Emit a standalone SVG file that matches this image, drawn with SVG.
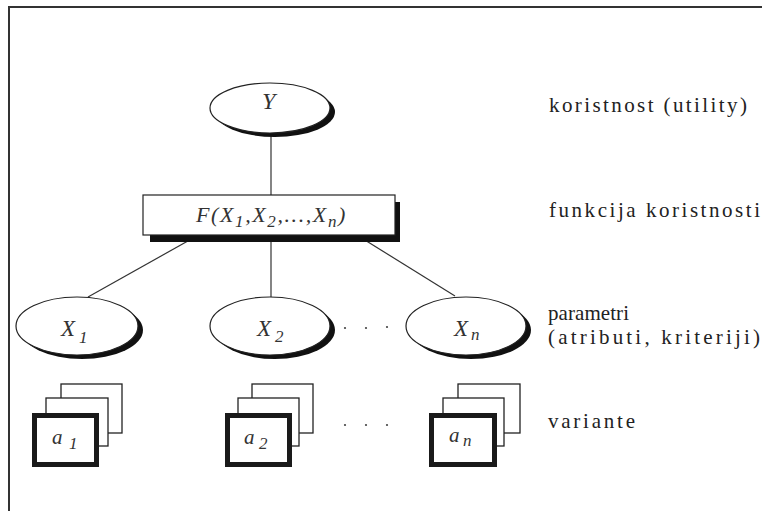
<svg xmlns="http://www.w3.org/2000/svg" width="762" height="511" viewBox="0 0 762 511">
  <style>
    .frame { fill: none; stroke: #333; stroke-width: 2; }
    .edge { stroke: #333; stroke-width: 1.2; fill: none; }
    .shadow { fill: #111; }
    .shape { fill: #fff; stroke: #222; stroke-width: 1.2; }
    .card { fill: #fff; stroke: #222; stroke-width: 1.3; }
    .front { fill: #fff; stroke: #1a1a1a; stroke-width: 5; }
    .math { font-family: "Liberation Serif", "DejaVu Serif", serif; font-style: italic; fill: #333; }
    .label { font-family: "Liberation Serif", "DejaVu Serif", serif; font-size: 21px; fill: #222; }
    .dot { fill: #444; }
  </style>

  <rect width="762" height="511" fill="#fff"/>
  <path class="frame" d="M9,511 V7 H762"/>

  <!-- connectors -->
  <g id="connectors">
    <line class="edge" x1="271" y1="133" x2="271" y2="195"/>
    <line class="edge" x1="195" y1="237" x2="88" y2="297"/>
    <line class="edge" x1="271" y1="237" x2="271" y2="297"/>
    <line class="edge" x1="360" y1="237" x2="455" y2="296"/>
  </g>

  <!-- utility -->
  <g id="node-y">
    <ellipse class="shadow" cx="275" cy="112" rx="60" ry="25"/>
    <ellipse class="shape" cx="270" cy="108" rx="60" ry="25"/>
    <text class="math" x="262" y="109" font-size="24">Y</text>
  </g>

  <!-- utility function -->
  <g id="node-f">
    <rect class="shadow" x="150" y="202" width="250" height="40"/>
    <rect class="shape" x="143" y="195" width="252" height="40"/>
    <text class="math" x="196" y="222" font-size="22" letter-spacing="1.6">F(X<tspan font-size="17" dy="5">1</tspan><tspan dy="-5">,X</tspan><tspan font-size="17" dy="5">2</tspan><tspan dy="-5">,...,X</tspan><tspan font-size="17" dy="5">n</tspan><tspan dy="-5">)</tspan></text>
  </g>

  <!-- parameters -->
  <g id="node-x1">
    <ellipse class="shadow" cx="82" cy="330" rx="61" ry="29"/>
    <ellipse class="shape" cx="77" cy="326" rx="61" ry="29"/>
    <text class="math" x="61" y="336" font-size="23">X</text>
    <text class="math" x="79" y="343" font-size="17">1</text>
  </g>
  <g id="node-x2">
    <ellipse class="shadow" cx="275" cy="330" rx="60" ry="29"/>
    <ellipse class="shape" cx="270" cy="326" rx="60" ry="29"/>
    <text class="math" x="257" y="336" font-size="23">X</text>
    <text class="math" x="275" y="342" font-size="17">2</text>
  </g>
  <g id="node-xn">
    <ellipse class="shadow" cx="471" cy="330" rx="60" ry="29"/>
    <ellipse class="shape" cx="466" cy="326" rx="60" ry="29"/>
    <text class="math" x="454" y="336" font-size="23">X</text>
    <text class="math" x="471" y="340" font-size="17">n</text>
  </g>
  <g id="dots-x">
    <circle class="dot" cx="345" cy="328" r="1.1"/>
    <circle class="dot" cx="366" cy="328" r="1.1"/>
    <circle class="dot" cx="387" cy="327" r="1.1"/>
  </g>

  <!-- variants -->
  <g id="node-a1">
    <rect class="card" x="61" y="384" width="61" height="49"/>
    <rect class="card" x="46" y="398" width="62" height="48"/>
    <rect class="front" x="34.5" y="415.5" width="62" height="49"/>
    <text class="math" x="52" y="444" font-size="21">a</text>
    <text class="math" x="69" y="449" font-size="17">1</text>
  </g>
  <g id="node-a2">
    <rect class="card" x="252" y="384" width="61" height="49"/>
    <rect class="card" x="238" y="398" width="61" height="48"/>
    <rect class="front" x="227.5" y="415.5" width="62" height="49"/>
    <text class="math" x="244" y="444" font-size="21">a</text>
    <text class="math" x="259" y="449" font-size="17">2</text>
  </g>
  <g id="node-an">
    <rect class="card" x="458" y="384" width="62" height="49"/>
    <rect class="card" x="443" y="398" width="61" height="48"/>
    <rect class="front" x="431.5" y="415.5" width="63" height="49"/>
    <text class="math" x="449" y="442" font-size="21">a</text>
    <text class="math" x="463" y="446" font-size="17">n</text>
  </g>
  <g id="dots-a">
    <circle class="dot" cx="345" cy="425" r="1.1"/>
    <circle class="dot" cx="366" cy="425" r="1.1"/>
    <circle class="dot" cx="387" cy="425" r="1.1"/>
  </g>

  <!-- level labels -->
  <g id="labels">
    <text class="label" x="549" y="112" textLength="198" lengthAdjust="spacing">koristnost (utility)</text>
    <text class="label" x="549" y="217" textLength="211" lengthAdjust="spacing">funkcija koristnosti</text>
    <text class="label" x="548" y="320" textLength="81" lengthAdjust="spacing" font-size="20">parametri</text>
    <text class="label" x="548" y="344" textLength="212" lengthAdjust="spacing" font-size="20">(atributi, kriteriji)</text>
    <text class="label" x="548" y="428" textLength="87" lengthAdjust="spacing">variante</text>
  </g>
</svg>
